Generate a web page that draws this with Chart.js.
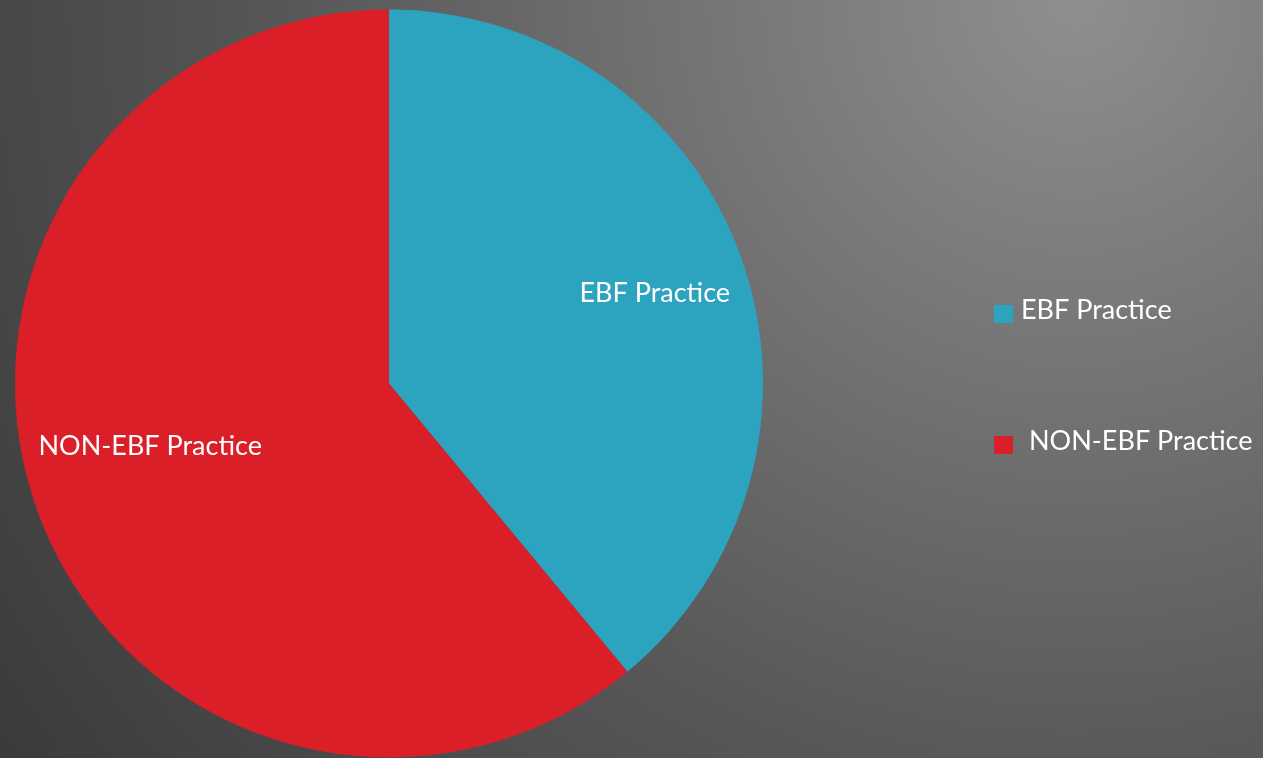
<!DOCTYPE html>
<html>
<head>
<meta charset="utf-8">
<title>EBF Practice</title>
<script src="https://cdn.jsdelivr.net/npm/chart.js@4/dist/chart.umd.min.js"></script>
<style>
  html, body { margin: 0; padding: 0; }
  body {
    width: 1263px; height: 758px; overflow: hidden;
    background: radial-gradient(circle farthest-corner at 85% 0%, #8f8f8f 0%, #575757 60%, #3a3a3a 100%);
  }
  #wrap { position: relative; width: 1263px; height: 758px; }
</style>
</head>
<body>
<div id="wrap"><canvas id="chart"></canvas></div>
<script>
const labels = ['EBF Practice', 'NON-EBF Practice'];
const values = [39, 61];
const colors = ['#2ca3bf', '#da1f28'];

const FONT = '27px Lato, "Open Sans", sans-serif';

// slice labels sit inside each wedge, along the middle angle
const sliceLabels = {
  id: 'sliceLabels',
  afterDatasetsDraw(chart) {
    const ctx = chart.ctx;
    const meta = chart.getDatasetMeta(0);
    const place = [0.75, 0.66];
    ctx.save();
    ctx.font = FONT;
    ctx.fillStyle = '#ffffff';
    ctx.textAlign = 'center';
    ctx.textBaseline = 'middle';
    meta.data.forEach((arc, i) => {
      const p = arc.getProps(['x', 'y', 'startAngle', 'endAngle', 'outerRadius']);
      let mid = (p.startAngle + p.endAngle) / 2;
      if (i === 0) mid += 0.02;
      if (i === 1) mid += 0.09;
      const r = p.outerRadius * place[i];
      ctx.fillText(chart.data.labels[i], p.x + Math.cos(mid) * r, p.y + Math.sin(mid) * r);
    });
    ctx.restore();
  }
};

// legend on the right, one square + text per slice
const sideLegend = {
  id: 'sideLegend',
  afterDraw(chart) {
    const ctx = chart.ctx;
    const ds = chart.data.datasets[0];
    ctx.save();
    ctx.font = FONT;
    ctx.textBaseline = 'middle';
    chart.data.labels.forEach((lab, i) => {
      const y = 314 + i * 131;
      ctx.fillStyle = ds.backgroundColor[i];
      ctx.fillRect(994, y - 9, 19, 18);
      ctx.fillStyle = '#ffffff';
      ctx.fillText(lab, i === 0 ? 1021 : 1029, y - 4);
    });
    ctx.restore();
  }
};

new Chart(document.getElementById('chart'), {
  type: 'pie',
  data: {
    labels: labels,
    datasets: [{
      data: values,
      backgroundColor: colors,
      borderWidth: 0,
      hoverOffset: 0
    }]
  },
  options: {
    responsive: true,
    maintainAspectRatio: false,
    animation: false,
    layout: { padding: { left: 15, right: 500, top: 9, bottom: 0 } },
    plugins: {
      legend: { display: false },
      tooltip: { enabled: false }
    }
  },
  plugins: [sliceLabels, sideLegend]
});
</script>
</body>
</html>
